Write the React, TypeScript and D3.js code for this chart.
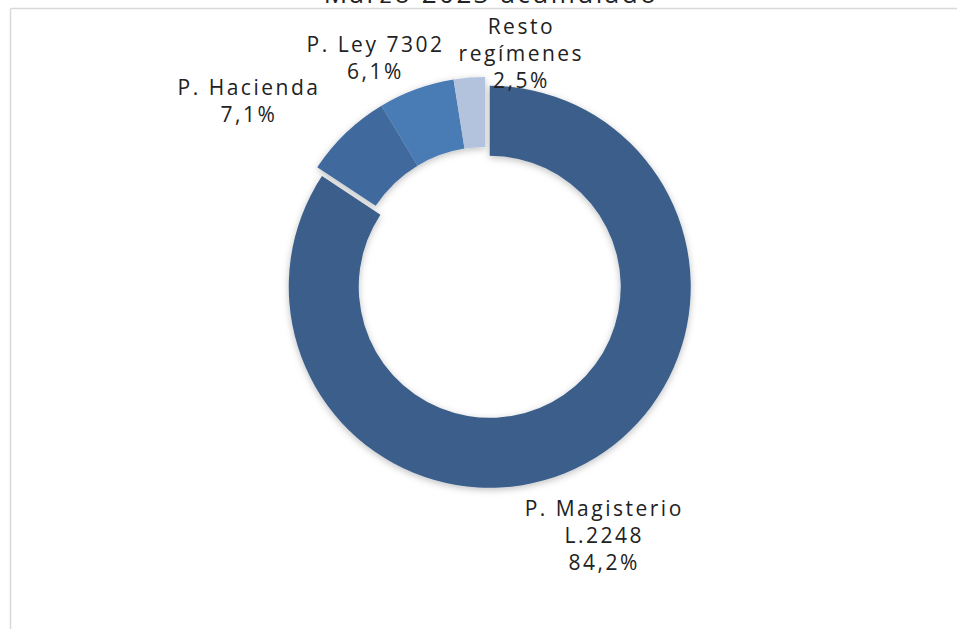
import * as d3 from "d3";

// chart data
const categories = ["P. Magisterio L.2248", "P. Hacienda", "P. Ley 7302", "Resto regímenes"];
const shares = [84.2, 7.1, 6.1, 2.5];
const labelLines = [
    ["P. Magisterio", "L.2248", "84,2%"],
    ["P. Hacienda", "7,1%"],
    ["P. Ley 7302", "6,1%"],
    ["Resto", "regímenes", "2,5%"],
];
const colors = ["#3a5e8a", "#41699d", "#4a7bb4", "#b3c3de"];
const title = "Marzo 2023 acumulado";

export default function App() {
    const width = 957;
    const height = 629;
    const cx = 485;
    const cy = 278;
    const outerR = 201;
    const innerR = 131;
    const explode = 10;
    const labelR = 250;
    // manual nudges for the label blocks, like the original chart
    const nudges = [[-4, 29], [-63, 4], [-24, 15], [56, 25]];
    const lineH = 27;

    const pie = d3.pie<number>().sort(null).value(d => d);
    const arcs = pie(shares);
    const arc = d3.arc<d3.PieArcDatum<number>>().innerRadius(innerR).outerRadius(outerR);
    const labelArc = d3.arc<d3.PieArcDatum<number>>().innerRadius(labelR).outerRadius(labelR);

    const fontFamily = "'Open Sans', sans-serif";

    return (
        <svg width={width} height={height} style={{ position: "absolute", left: 0, top: 0 }}>
            <defs>
                <filter id="shadow" x="-20%" y="-20%" width="140%" height="140%">
                    <feDropShadow dx="0" dy="2" stdDeviation="3.5" floodColor="#000" floodOpacity="0.25" />
                </filter>
            </defs>
            <rect x={0} y={0} width={width} height={height} fill="#fff" />
            {/* frame */}
            <line x1={10.5} y1={8.5} x2={width} y2={8.5} stroke="#d9d9d9" strokeWidth={1.5} />
            <line x1={10.5} y1={8.5} x2={10.5} y2={height} stroke="#d9d9d9" strokeWidth={1.5} />
            {/* title, mostly cut off at the top */}
            <text x={491} y={3} textAnchor="middle" fontFamily={fontFamily} fontSize={26}
                letterSpacing={2.5} fill="#222">{title}</text>

            <g filter="url(#shadow)">
                {arcs.map((a, i) => {
                    const mid = (a.startAngle + a.endAngle) / 2;
                    const off = i === 0 ? explode : 0;
                    const dx = Math.sin(mid) * off;
                    const dy = -Math.cos(mid) * off;
                    return (
                        <path key={categories[i]} d={arc(a) || ""} fill={colors[i]}
                            transform={`translate(${cx + dx},${cy + dy})`} />
                    );
                })}
            </g>

            {arcs.map((a, i) => {
                const [lx, ly] = labelArc.centroid(a);
                const mid = (a.startAngle + a.endAngle) / 2;
                const off = i === 0 ? explode : 0;
                const x = cx + lx + Math.sin(mid) * off + nudges[i][0];
                const y = cy + ly - Math.cos(mid) * off + nudges[i][1];
                const lines = labelLines[i];
                const top = y - ((lines.length - 1) * lineH) / 2;
                return (
                    <text key={"l" + i} textAnchor="middle" fontFamily={fontFamily} fontSize={21}
                        letterSpacing={2.5} fill="#222">
                        {lines.map((t, j) => (
                            <tspan key={j} x={x} y={top + j * lineH} dy="0.35em">{t}</tspan>
                        ))}
                    </text>
                );
            })}
        </svg>
    );
}
